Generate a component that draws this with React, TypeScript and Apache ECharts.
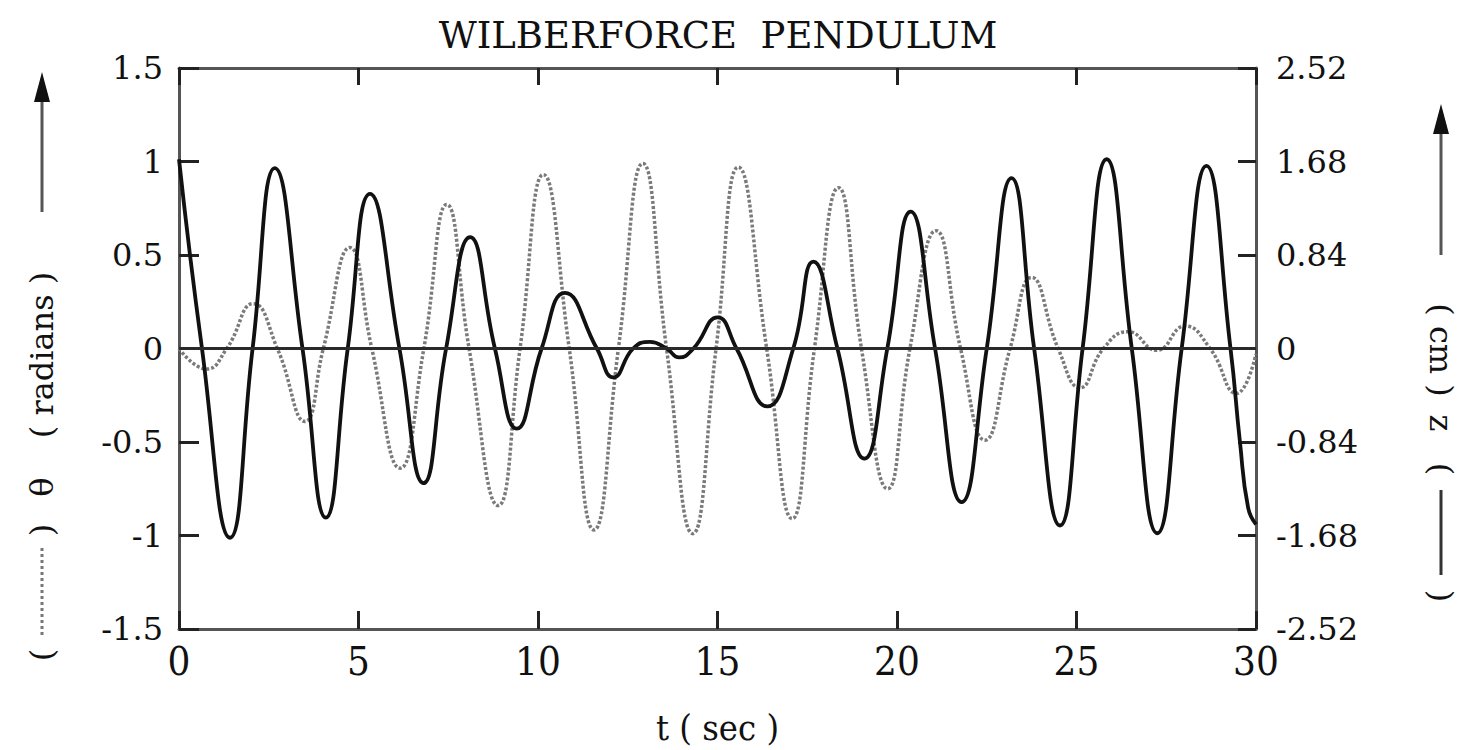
import React, { useEffect, useRef } from "react";
import * as echarts from "echarts";

const TITLE = "WILBERFORCE  PENDULUM";
const X_NAME = "t ( sec )";

// z (cm), solid curve, right axis
const Z_T = [0, 0.64, 1.42, 2.05, 2.67, 3.44, 4.09, 4.7, 5.32, 6.14, 6.81, 7.44, 8.11, 8.8, 9.41, 10.1, 10.75, 11.64, 12.1, 12.65, 13.12, 13.58, 13.93, 14.33, 15.0, 15.53, 16.39, 17.11, 17.67, 18.34, 19.09, 19.73, 20.38, 21.06, 21.8, 22.5, 23.19, 23.82, 24.54, 25.17, 25.84, 26.54, 27.25, 27.93, 28.62, 29.29, 29.55, 29.78, 30];
const Z_CM = [1.7, 0, -1.7, 0, 1.62, 0, -1.52, 0, 1.39, 0, -1.21, 0, 1.0, 0, -0.72, 0, 0.5, 0, -0.26, 0, 0.06, 0, -0.08, 0, 0.28, 0, -0.52, 0, 0.78, 0, -0.99, 0, 1.23, 0, -1.38, 0, 1.53, 0, -1.59, 0, 1.7, 0, -1.66, 0, 1.64, 0, -0.83, -1.43, -1.58];

// theta (radians), dotted curve, left axis
const THETA_T = [0, 0.77, 1.33, 2.07, 2.74, 3.51, 4.02, 4.76, 5.37, 6.16, 6.82, 7.46, 8.08, 8.89, 9.5, 10.15, 10.87, 11.56, 12.24, 12.92, 13.58, 14.31, 14.96, 15.58, 16.37, 17.08, 17.7, 18.37, 19.01, 19.74, 20.36, 21.09, 21.77, 22.45, 23.15, 23.75, 24.49, 25.1, 25.75, 26.44, 27.23, 28.02, 28.72, 29.46, 30];
const THETA_RAD = [0, -0.11, 0, 0.24, 0, -0.39, 0, 0.54, 0, -0.64, 0, 0.77, 0, -0.84, 0, 0.93, 0, -0.97, 0, 0.99, 0, -0.99, 0, 0.97, 0, -0.91, 0, 0.86, 0, -0.75, 0, 0.63, 0, -0.49, 0, 0.38, 0, -0.21, 0, 0.09, -0.01, 0.12, 0, -0.24, -0.03];

const X_MIN = 0, X_MAX = 30, X_STEP = 5;
const TH_MIN = -1.5, TH_MAX = 1.5, TH_STEP = 0.5;
const Z_MIN = -2.52, Z_MAX = 2.52, Z_STEP = 0.84;

export default function App() {
  const ref = useRef<HTMLDivElement>(null);
  useEffect(() => {
    const chart = echarts.init(ref.current!, null, { renderer: "svg" });
    const serif = "'DejaVu Serif', 'Liberation Serif', serif";
    const serifC = "'DejaVu Serif Condensed', 'DejaVu Serif', serif";
    const ink = "#111111";
    const rotText = (text: string, x: number, y: number, rot: number, size = 32) => ({
      type: "text",
      x,
      y,
      rotation: rot,
      style: {
        text,
        fontFamily: serif,
        fontSize: size,
        fill: ink,
        align: "center",
        verticalAlign: "middle",
        textAlign: "center",
        textVerticalAlign: "middle",
      },
    });
    chart.setOption({
      animation: false,
      backgroundColor: "#ffffff",
      title: {
        text: TITLE,
        left: 713,
        top: 12,
        textAlign: "center",
        textStyle: { fontFamily: serif, fontSize: 37, fontWeight: "normal", color: ink },
      },
      grid: { left: 179, right: 207, top: 68, bottom: 120 },
      xAxis: [
        {
          type: "value",
          min: X_MIN,
          max: X_MAX,
          interval: X_STEP,
          position: "bottom",
          axisLine: { show: true, onZero: false, lineStyle: { color: "#555555", width: 3 } },
          axisTick: { show: true, inside: true, length: 18, lineStyle: { color: "#222222", width: 3 } },
          axisLabel: { fontFamily: serifC, fontSize: 40, color: ink, margin: 12 },
          splitLine: { show: false },
          name: X_NAME,
          nameLocation: "middle",
          nameGap: 80,
          nameTextStyle: { fontFamily: serifC, fontSize: 36, color: ink },
        },
        {
          type: "value",
          min: X_MIN,
          max: X_MAX,
          interval: X_STEP,
          position: "top",
          axisLine: { show: true, onZero: false, lineStyle: { color: "#555555", width: 3 } },
          axisTick: { show: true, inside: false, length: -17, lineStyle: { color: "#222222", width: 3 } },
          axisLabel: { show: false },
          splitLine: { show: false },
        },
      ],
      yAxis: [
        {
          type: "value",
          min: TH_MIN,
          max: TH_MAX,
          interval: TH_STEP,
          position: "left",
          axisLine: { show: true, onZero: false, lineStyle: { color: "#555555", width: 3 } },
          axisTick: { show: true, inside: true, length: 20, lineStyle: { color: "#222222", width: 3 } },
          axisLabel: { fontFamily: serif, fontSize: 32, color: ink, margin: 16 },
          splitLine: { show: false },
        },
        {
          type: "value",
          min: Z_MIN,
          max: Z_MAX,
          interval: Z_STEP,
          position: "right",
          axisLine: { show: true, onZero: false, lineStyle: { color: "#555555", width: 3 } },
          axisTick: { show: true, inside: false, length: -18, lineStyle: { color: "#222222", width: 3 } },
          axisLabel: {
            fontFamily: serif,
            fontSize: 32,
            color: ink,
            margin: 20,
            formatter: (v: number) => (Math.abs(v) < 1e-9 ? "0" : v.toFixed(2)),
          },
          splitLine: { show: false },
        },
      ],
      series: [
        {
          name: "theta",
          type: "line",
          xAxisIndex: 0,
          yAxisIndex: 0,
          data: THETA_T.map((t, i) => [t, THETA_RAD[i]]),
          smooth: 0.5,
          showSymbol: false,
          lineStyle: { color: "#7a7a7a", width: 3.5, type: [3, 2] },
          z: 2,
          markLine: {
            silent: true,
            symbol: ["none", "none"],
            label: { show: false },
            lineStyle: { color: "#2a2a2a", width: 3, type: "solid" },
            data: [{ yAxis: 0 }],
          },
        },
        {
          name: "z",
          type: "line",
          xAxisIndex: 0,
          yAxisIndex: 1,
          data: Z_T.map((t, i) => [t, Z_CM[i]]),
          smooth: 0.5,
          showSymbol: false,
          lineStyle: { color: "#111111", width: 3.8 },
          z: 3,
        },
      ],
      graphic: [
        { type: "line", shape: { x1: 42, y1: 212, x2: 42, y2: 96 }, style: { stroke: "#555", lineWidth: 3 } },
        { type: "polygon", shape: { points: [[42, 72], [34, 102], [50, 102]] }, style: { fill: "#111" } },
        rotText("( radians )", 42, 355, Math.PI / 2),
        rotText("θ", 42, 487, Math.PI / 2),
        rotText(")", 42, 530, Math.PI / 2),
        { type: "line", shape: { x1: 42, y1: 548, x2: 42, y2: 638 }, style: { stroke: "#777", lineWidth: 3, lineDash: [3, 3] } },
        rotText("(", 42, 655, Math.PI / 2),
        { type: "line", shape: { x1: 1441, y1: 255, x2: 1441, y2: 128 }, style: { stroke: "#555", lineWidth: 3 } },
        { type: "polygon", shape: { points: [[1441, 104], [1433, 134], [1449, 134]] }, style: { fill: "#111" } },
        rotText("( cm )", 1441, 350, -Math.PI / 2),
        rotText("z", 1441, 423, -Math.PI / 2),
        rotText("(", 1441, 469, -Math.PI / 2),
        { type: "line", shape: { x1: 1441, y1: 490, x2: 1441, y2: 575 }, style: { stroke: "#333", lineWidth: 3 } },
        rotText(")", 1441, 596, -Math.PI / 2),
      ],
    });
    return () => chart.dispose();
  }, []);
  return (
    <div
      ref={ref}
      style={{ position: "fixed", left: 0, top: 0, width: 1463, height: 750, background: "#fff" }}
    />
  );
}
